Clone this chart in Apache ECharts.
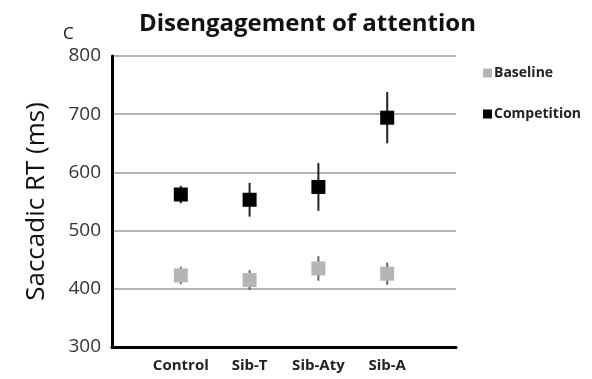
<!DOCTYPE html>
<html>
<head>
<meta charset="utf-8">
<script src="https://cdn.jsdelivr.net/npm/echarts@6/dist/echarts.min.js"></script>
<style>
  html, body { margin: 0; padding: 0; background: #fff; }
  #chart { width: 592px; height: 379px; }
</style>
</head>
<body>
<div id="chart"></div>
<script>
// Groups along the x axis
const categories = ['Control', 'Sib-T', 'Sib-Aty', 'Sib-A'];

// Mean saccadic reaction times (ms) and their error half-widths
const baselineMean = [423, 415, 435, 426];
const baselineErr = [15, 17, 21, 19];
const competitionMean = [562, 553, 575, 694];
const competitionErr = [15, 29, 41, 44];

// Y axis ticks
const yTicks = [300, 400, 500, 600, 700, 800];

const FONT = '"Open Sans", sans-serif';

// Axis categories padded with an empty slot on each side
const axisCats = [''].concat(categories, ['']);

function points(means) {
  return means.map((v, i) => [i + 1, v]);
}
function ranges(means, errs) {
  return means.map((v, i) => [i + 1, v - errs[i], v + errs[i]]);
}

function errorBarSeries(name, data, color) {
  return {
    name: name,
    type: 'custom',
    z: 2,
    silent: true,
    data: data,
    encode: { x: 0, y: [1, 2] },
    renderItem: function (params, api) {
      const x = api.value(0);
      const lo = api.coord([x, api.value(1)]);
      const hi = api.coord([x, api.value(2)]);
      return {
        type: 'line',
        shape: { x1: lo[0], y1: lo[1], x2: hi[0], y2: hi[1] },
        style: { stroke: color, lineWidth: 2 }
      };
    }
  };
}

const chart = echarts.init(document.getElementById('chart'));
chart.setOption({
  animation: false,
  backgroundColor: '#fff',
  title: {
    text: 'Disengagement of attention',
    left: 134,
    top: 7,
    textStyle: { fontFamily: FONT, fontSize: 24, fontWeight: 'bold', color: '#111' }
  },
  graphic: [{
    type: 'text',
    left: 63,
    top: 26,
    style: { text: 'C', font: '17px ' + FONT, fill: '#111' }
  }],
  legend: {
    orient: 'vertical',
    left: 478,
    top: 61,
    itemGap: 27,
    itemWidth: 9,
    itemHeight: 9,
    icon: 'rect',
    data: ['Baseline', 'Competition'],
    textStyle: { fontFamily: FONT, fontSize: 14, fontWeight: 'bold', color: '#222', padding: [0, 0, 0, -3] }
  },
  grid: { left: 112, right: 136, top: 56, bottom: 32 },
  xAxis: {
    type: 'category',
    data: axisCats,
    boundaryGap: false,
    axisLine: { lineStyle: { color: '#000', width: 3 } },
    axisTick: { show: false },
    axisLabel: { fontFamily: FONT, fontSize: 15, fontWeight: 'bold', color: '#222', margin: 11, interval: 0 },
    splitLine: { show: false }
  },
  yAxis: {
    type: 'value',
    min: yTicks[0],
    max: yTicks[yTicks.length - 1],
    interval: 100,
    name: 'Saccadic RT (ms)',
    nameLocation: 'middle',
    nameGap: 62,
    nameTextStyle: { fontFamily: FONT, fontSize: 26, color: '#111' },
    axisLine: { show: true, lineStyle: { color: '#000', width: 3 } },
    axisTick: { show: false },
    axisLabel: { fontFamily: FONT, fontSize: 19, color: '#333', margin: 11 },
    splitLine: { lineStyle: { color: '#b4b4b4', width: 2 } }
  },
  series: [
    errorBarSeries('Baseline err', ranges(baselineMean, baselineErr), '#666'),
    errorBarSeries('Competition err', ranges(competitionMean, competitionErr), '#222'),
    {
      name: 'Baseline',
      type: 'scatter',
      z: 3,
      symbol: 'rect',
      symbolSize: 14,
      itemStyle: { color: '#b5b5b5', opacity: 1 },
      data: points(baselineMean)
    },
    {
      name: 'Competition',
      type: 'scatter',
      z: 3,
      symbol: 'rect',
      symbolSize: 14,
      itemStyle: { color: '#000', opacity: 1 },
      data: points(competitionMean)
    }
  ]
});
</script>
</body>
</html>
